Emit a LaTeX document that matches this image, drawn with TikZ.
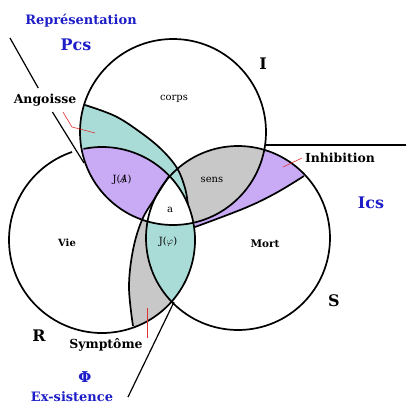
\documentclass[tikz,border=0pt]{standalone}
\usepackage{fontspec}
\setmainfont{DejaVu Serif}
\usetikzlibrary{positioning}
\definecolor{vert}{HTML}{AADCD7}
\definecolor{lila}{HTML}{C8AAF5}
\definecolor{gris}{HTML}{C8C8C8}
\definecolor{bleu}{HTML}{1E1EC8}
\definecolor{rouge}{HTML}{E03030}

% rings and their extensions (pixel coordinates, y downwards)
\def\ringI{(173,132) circle[radius=93]}
\def\ringR{(102,240) circle[radius=93]}
\def\ringS{(238,238) circle[radius=92]}
\def\arcT{plot[smooth,tension=0.6] coordinates {(85,105) (115,116) (140,132) (161,149) (177,168) (185,188) (188,205)}}
\def\arcU{plot[smooth,tension=0.6] coordinates {(169,176) (155,198) (142,220) (133,250) (129,287) (133,326)}}
\def\arcV{plot[smooth,tension=0.6] coordinates {(195,227) (245,208) (276,193) (304,176)}}
\def\Rext{\arcT arc[start angle=-22.1,end angle=251.2,radius=93] -- (60,110) -- cycle}
\def\Sext{\arcU -- (250,420) -- (420,420) -- (420,60) -- (200,60) -- cycle}
\def\Iext{\arcV -- (340,100) -- (200,100) -- cycle}
\def\page{(-10,-10) rectangle (420,420)}

\begin{document}
\begin{tikzpicture}[x=1bp,y=-1bp,line width=1.7bp,
  inner/.style={font=\fontsize{10}{10}\selectfont},
  nom/.style={font=\bfseries\fontsize{12.5}{12.5}\selectfont},
  ring/.style={font=\bfseries\fontsize{16}{16}\selectfont},
  bleutxt/.style={text=bleu,font=\bfseries\fontsize{13}{13}\selectfont},
  pointer/.style={rouge,line width=0.6bp}]
\useasboundingbox (0,0) rectangle (406,406);

% fills outside I
\begin{scope} \clip \ringS; \clip \Iext; \fill[lila] \page; \end{scope}
\begin{scope} \clip \ringR; \clip \Sext; \fill[gris] \page; \end{scope}
\begin{scope} \clip \ringS; \clip \Rext; \fill[vert] \page; \end{scope}
% fills inside I
\begin{scope} \clip \ringI; \clip \ringS; \fill[gris] \page; \end{scope}
\begin{scope} \clip \ringI; \clip \Rext; \fill[vert] \page; \end{scope}
\begin{scope} \clip \ringI; \clip \ringR; \fill[lila] \page; \end{scope}
\begin{scope} \clip \ringI; \clip \ringR; \clip \Sext; \fill[white] \page; \end{scope}

% rings
\draw \ringI;
\draw \ringS;
\draw (102,240) ++(258.5:93) arc[start angle=258.5,end angle=611.2,radius=93];
\draw \arcT;
\draw \arcU;
\draw \arcV;

% labels
\node[bleutxt] (rep) at (81,21) {Représentation};
\node[bleutxt,font=\bfseries\fontsize{16}{16}\selectfont] (pcs) at (76,45) {Pcs};
\node[nom,inner ysep=5bp] (ang) at (45,100) {Angoisse};
\node[inner] (corps) at (174,99) {corps};
\node[ring] (ri) at (263,64) {I};
\node[inner] (ja) at (122,180) {J(\ooalign{\textit{A}\cr\hidewidth/\hidewidth})};
\node[inner] (sens) at (212,180) {sens};
\node[inner] (pa) at (170,210) {a};
\node[inner] (jphi) at (168,242) {J($\varphi$)};
\node[inner,font=\bfseries\fontsize{10}{10}\selectfont] (vie) at (67,243) {Vie};
\node[inner,font=\bfseries\fontsize{10.5}{10.5}\selectfont] (mort) at (265,244) {Mort};
\node[nom] (inhib) at (340,158) {Inhibition};
\node[bleutxt,font=\bfseries\fontsize{16}{16}\selectfont] (ics) at (371,203) {Ics};
\node[ring] (rs) at (334,301) {S};
\node[ring] (rr) at (39,336) {R};
\node[nom] (sympt) at (106,345) {Symptôme};
\node[bleutxt,font=\bfseries\fontsize{15}{15}\selectfont] (phi) at (85,377) {Φ};
\node[bleutxt] (exs) at (72,397) {Ex-sistence};

% straight lines
\coordinate (pcs0) at (10,38);
\coordinate (pcs1) at (84,163);
\coordinate (ics0) at (265,145);
\coordinate (ics1) at (406,145);
\coordinate (exs0) at (128,397);
\coordinate (exs1) at (174,302);
\draw[line width=1.2bp] (pcs0) -- (ang) -- (pcs1);
\draw[line width=1.2bp] (ics0) -- (ics1);
\draw[line width=1.2bp] (exs0) -- (exs1);

% red pointers
\coordinate (ang0) at (63,112);
\coordinate (ang1) at (72,127);
\coordinate (ang2) at (95,133);
\coordinate (inh0) at (302,158);
\coordinate (inh1) at (283,167);
\coordinate (sym0) at (147,308);
\coordinate (sym1) at (147,338);
\draw[pointer] (ang0) -- (ang1) -- (ang2);
\draw[pointer] (inh0) -- (inh1);
\draw[pointer] (sym0) -- (sym1);
\end{tikzpicture}
\end{document}
